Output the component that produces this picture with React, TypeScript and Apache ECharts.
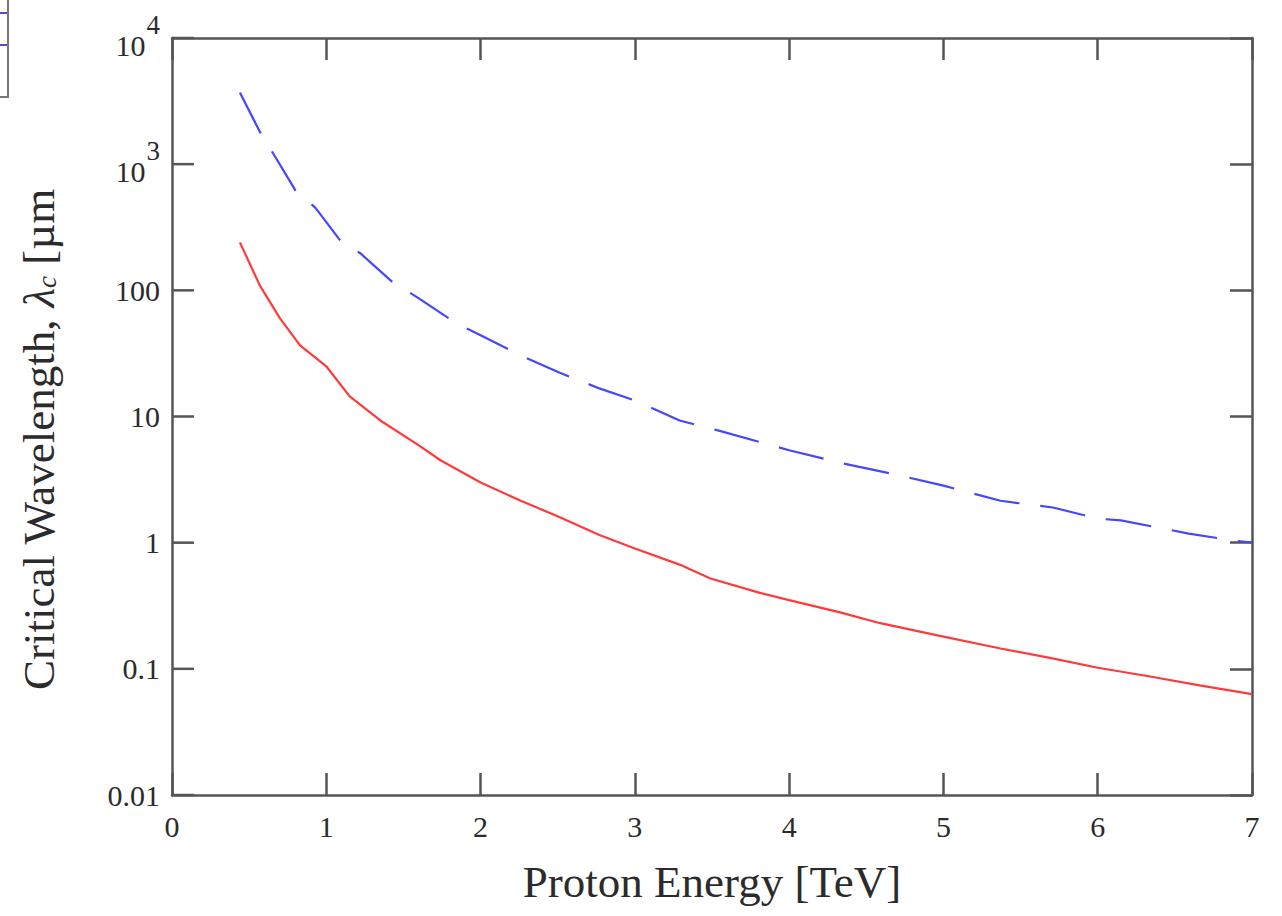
import React, { useEffect, useRef } from "react";
import * as echarts from "echarts";

// Red (solid) curve: proton energy [TeV] -> critical wavelength [µm]
const redEnergy = [0.44, 0.57, 0.7, 0.83, 1.0, 1.15, 1.35, 1.6, 1.74, 2.0, 2.26, 2.51, 2.77, 3.0, 3.29, 3.49, 3.81, 4.0, 4.33, 4.59, 5.0, 5.37, 5.69, 6.0, 6.34, 6.66, 7.0];
const redWavelength = [240, 109, 60, 36.6, 25, 14.5, 9.3, 5.9, 4.5, 3.0, 2.15, 1.6, 1.15, 0.9, 0.67, 0.52, 0.4, 0.35, 0.28, 0.23, 0.18, 0.145, 0.122, 0.102, 0.087, 0.074, 0.063];

// Blue (dashed) curve
const blueEnergy = [0.44, 0.57, 0.655, 0.8, 0.93, 1.1, 1.22, 1.43, 1.59, 1.83, 2.0, 2.26, 2.51, 2.77, 3.0, 3.29, 3.55, 4.0, 4.33, 4.72, 5.0, 5.37, 5.56, 5.71, 6.0, 6.15, 6.43, 6.59, 6.88, 7.0];
const blueWavelength = [3700, 1800, 1220, 620, 450, 240, 197, 116, 88, 56, 44, 30.5, 22.3, 16.7, 13.4, 9.3, 7.7, 5.4, 4.3, 3.4, 2.83, 2.15, 2.0, 1.9, 1.55, 1.5, 1.29, 1.18, 1.04, 1.0];

// Tick labels (by decade exponent)
const yTickExponents = [-2, -1, 0, 1, 2, 3, 4];
const yTickLabels = ["0.01", "0.1", "1", "10", "100", "{b|10}{s|3}", "{b|10}{s|4}"];
const xTickLabels = ["0", "1", "2", "3", "4", "5", "6", "7"];

const xTitle = "Proton Energy [TeV]";
const yTitleParts = ["Critical Wavelength, ", "λ", "c", " [µm"];

const AXIS_COLOR = "#555";
const TEXT_COLOR = "#2b2b2b";
const FONT = "'Liberation Serif', 'Times New Roman', serif";

const X_MIN = 0;
const X_MAX = 7;
const TICK_LEN = 22;

const makeLine = () => ({ show: true, onZero: false, lineStyle: { color: AXIS_COLOR, width: 2.5 } });
const makeTick = () => ({ show: true, inside: true, length: TICK_LEN, lineStyle: { color: AXIS_COLOR, width: 2.5 } });

export default function App() {
  const ref = useRef<HTMLDivElement>(null);

  useEffect(() => {
    if (!ref.current) return;
    const chart = echarts.init(ref.current, undefined, { renderer: "svg" });

    const redData = redEnergy.map((e, i) => [e, redWavelength[i]]);
    const blueData = blueEnergy.map((e, i) => [e, blueWavelength[i]]);

    const yFormatter = (v: number) => {
      const e = Math.round(Math.log10(v));
      const idx = yTickExponents.indexOf(e);
      return idx >= 0 ? yTickLabels[idx] : "";
    };

    chart.setOption({
      animation: false,
      backgroundColor: "#ffffff",
      grid: { left: 172, top: 38, right: 30, bottom: 121, containLabel: false },
      xAxis: [
        {
          type: "value",
          min: X_MIN,
          max: X_MAX,
          interval: 1,
          position: "bottom",
          axisLine: makeLine(),
          axisTick: makeTick(),
          splitLine: { show: false },
          axisLabel: {
            margin: 16,
            color: TEXT_COLOR,
            fontFamily: FONT,
            fontSize: 30,
            formatter: (v: number) => xTickLabels[Math.round(v)] ?? "",
          },
          name: xTitle,
          nameLocation: "middle",
          nameGap: 64,
          nameTextStyle: { color: TEXT_COLOR, fontFamily: FONT, fontSize: 45 },
        },
        {
          type: "value",
          min: X_MIN,
          max: X_MAX,
          interval: 1,
          position: "top",
          axisLine: makeLine(),
          axisTick: makeTick(),
          splitLine: { show: false },
          axisLabel: { show: false },
        },
      ],
      yAxis: [
        {
          type: "log",
          logBase: 10,
          min: 0.01,
          max: 10000,
          position: "left",
          axisLine: makeLine(),
          axisTick: { show: false },
          splitLine: { show: false },
          axisLabel: {
            margin: 12,
            color: TEXT_COLOR,
            fontFamily: FONT,
            fontSize: 30,
            formatter: yFormatter,
            rich: {
              b: { fontFamily: FONT, fontSize: 30, color: TEXT_COLOR, padding: [14, 0, 0, 0] },
              s: { fontFamily: FONT, fontSize: 27, color: TEXT_COLOR, padding: [0, 0, 26, 1] },
            },
          },
        },
        {
          type: "log",
          logBase: 10,
          min: 0.01,
          max: 10000,
          position: "right",
          axisLine: makeLine(),
          axisTick: makeTick(),
          splitLine: { show: false },
          axisLabel: { show: false },
        },
      ],
      series: [
        {
          type: "line",
          data: blueData,
          xAxisIndex: 0,
          yAxisIndex: 0,
          showSymbol: false,
          symbol: "none",
          smooth: false,
          lineStyle: { color: "#4646ff", width: 2.2, type: [46, 21] },
        },
        {
          type: "line",
          data: redData,
          xAxisIndex: 0,
          yAxisIndex: 0,
          showSymbol: false,
          symbol: "none",
          smooth: false,
          lineStyle: { color: "#ff3a3a", width: 2.2 },
        },
      ],
    });

    // inward ticks of the left frame edge, placed through the grid's own scales
    const toPixel = (x: number, y: number): number[] | null => {
      let p: any = chart.convertToPixel({ gridIndex: 0 }, [x, y]);
      if (!Array.isArray(p) || !isFinite(p[0]) || !isFinite(p[1])) {
        p = chart.convertToPixel({ seriesIndex: 1 }, [x, y]);
      }
      return Array.isArray(p) && isFinite(p[0]) && isFinite(p[1]) ? p : null;
    };
    const tickLines: any[] = [];
    yTickExponents.forEach((e) => {
      const p = toPixel(X_MIN, Math.pow(10, e));
      if (!p) return;
      tickLines.push({
        type: "line",
        z: 50,
        shape: { x1: p[0], y1: p[1], x2: p[0] + TICK_LEN, y2: p[1] },
        style: { stroke: AXIS_COLOR, lineWidth: 2.5 },
      });
    });

    chart.setOption({
      graphic: [
        {
          type: "text",
          x: 61,
          y: 690,
          rotation: Math.PI / 2,
          style: {
            text: `{n|${yTitleParts[0]}}{l|${yTitleParts[1]}}{c|${yTitleParts[2]}}{n|${yTitleParts[3]}}`,
            textAlign: "left",
            textVerticalAlign: "bottom",
            rich: {
              n: { fontFamily: FONT, fontSize: 45, fill: TEXT_COLOR },
              l: { fontFamily: FONT, fontSize: 45, fontStyle: "italic", fill: TEXT_COLOR },
              c: { fontFamily: FONT, fontSize: 27, fontStyle: "italic", fill: TEXT_COLOR, padding: [16, 0, 0, 0] },
            },
          },
        },
        // cropped fragment of a neighbouring frame at the top-left corner
        {
          type: "rect",
          shape: { x: -20, y: -5, width: 28, height: 102 },
          style: { fill: "none", stroke: "#777", lineWidth: 2 },
        },
        { type: "line", shape: { x1: 0, y1: 13, x2: 7, y2: 13 }, style: { stroke: "#5050c0", lineWidth: 2 } },
        { type: "line", shape: { x1: 0, y1: 45, x2: 7, y2: 45 }, style: { stroke: "#5050c0", lineWidth: 2 } },
        ...tickLines,
      ],
    });

    return () => chart.dispose();
  }, []);

  return (
    <div
      ref={ref}
      style={{ position: "fixed", left: 0, top: 0, width: 1282, height: 916, background: "#fff" }}
    />
  );
}
